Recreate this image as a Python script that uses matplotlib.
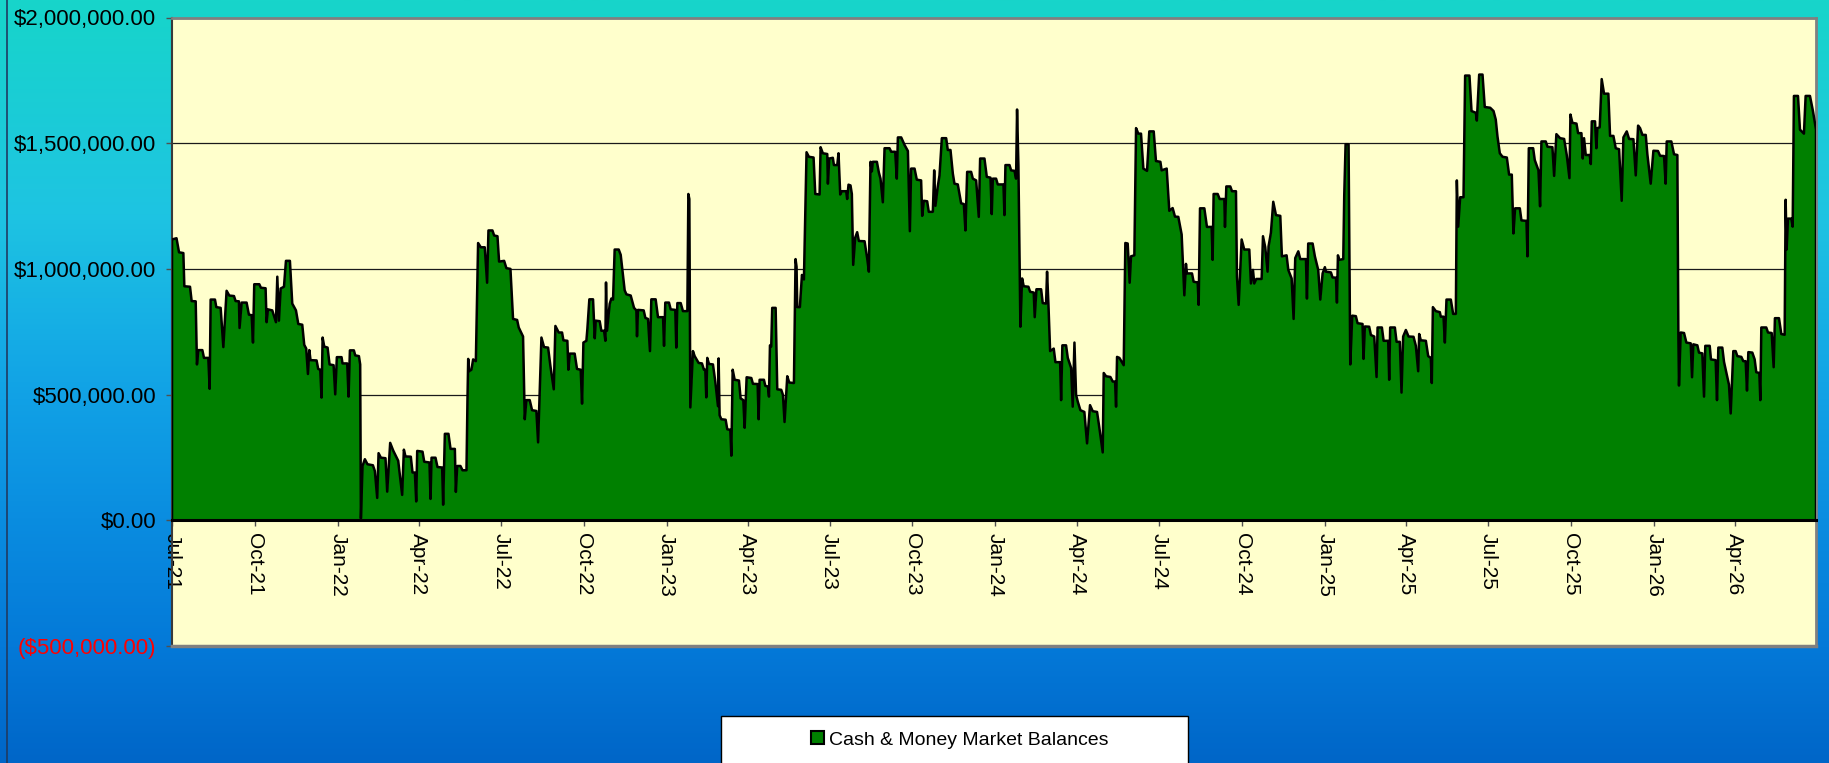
import datetime as dt
import numpy as np
import matplotlib
matplotlib.use("Agg")
import matplotlib.pyplot as plt
import matplotlib.dates as mdates
from matplotlib.colors import LinearSegmentedColormap
from matplotlib.patches import Rectangle, Patch
from matplotlib.lines import Line2D

plt.rcParams['font.family'] = ['Liberation Sans', 'DejaVu Sans']

# --- data: days since 2021-07-01 and balance in $ thousands ---
start = dt.date(2021, 7, 1)
end_day = 1825
days = [
    0, 5, 7.8, 12.6, 13.7, 20, 21.8, 26.3, 27.7, 29.2, 33.7, 35.5, 40.3, 41.8, 42.9, 47.7, 49.2, 54, 57, 60.6,
    63.6, 68.8, 70.6, 74.3, 75, 77.3, 82.8, 85.4, 88.4, 89.9, 91.3, 96.9, 98.7, 103.9, 105, 106.5, 111.3, 115.4, 116.9, 118.7,
    120.6, 124.3, 126.5, 130.9, 133.5, 137.6, 140.2, 144.6, 146.8, 149, 150.9, 152.4, 153.8, 160.5, 162.3, 164.6, 166, 167.2, 169, 172.7,
    174.9, 179.4, 181.2, 183, 188.2, 189.3, 194.5, 196, 197.5, 201.9, 203.4, 207.5, 208.9, 209.7, 211.5, 214.1, 217, 223, 225.2, 227.8,
    229.3, 231.9, 237, 238.9, 242.2, 245.6, 251.1, 255.5, 257.4, 259.2, 265.1, 267, 269.6, 271.1, 272.2, 278.1, 280, 285.8, 287, 288.1,
    292.5, 294.7, 299.9, 301, 302.9, 306.9, 309.2, 314, 315.1, 316.6, 320.2, 322.5, 326.9, 328, 328.8, 329.9, 332.4, 334.3, 337.3, 339.8,
    342.8, 347.2, 349.8, 351.3, 355.7, 357.6, 361.3, 363.1, 368.7, 371.2, 375.7, 378.6, 383.1, 384.9, 389.7, 391.6, 393.4, 397.1, 399.7, 404.5,
    406.4, 410.1, 413, 417.5, 420.1, 423.8, 425.6, 429.3, 433, 434.5, 438.9, 440, 441.5, 447, 449.6, 453.7, 455.2, 456.7, 460, 461.1,
    463.3, 467.4, 469.3, 470.4, 474.8, 476.6, 479.6, 481.1, 481.8, 482.9, 485.9, 487.7, 489.6, 491.4, 495.9, 498.1, 502.5, 504.4, 509.2, 512.9,
    515.5, 516.2, 517.3, 523.6, 525.5, 528.4, 530.6, 532.1, 536.9, 539.5, 545.1, 546.2, 547.6, 551.7, 553.6, 558.7, 559.8, 561, 564.7, 567.2,
    572.1, 573.2, 574.3, 575.4, 578.3, 580.2, 584.6, 588.3, 590.5, 592, 593.1, 594.2, 596.1, 600.5, 603.1, 606.1, 606.8, 607.9, 609.8, 614.6,
    616.4, 619.8, 620.9, 622.4, 624.6, 629.4, 631.2, 634.2, 635.7, 637.9, 643.1, 644.9, 650.1, 651.2, 652.3, 657.1, 658.6, 661.5, 662.7, 663.8,
    665.2, 666.3, 670.1, 671.9, 676.3, 678.2, 680, 683, 685.2, 690.4, 692.2, 693.3, 694.1, 697, 699.3, 701.5, 704.4, 707, 712.2, 714.1,
    718.9, 720, 722.5, 727.4, 728.1, 729.6, 733.6, 734.8, 738.5, 739.9, 741.8, 743.6, 748.4, 749.5, 751, 753.2, 754.7, 756.2, 758.4, 760.6,
    762.5, 768.8, 771.7, 773.6, 775.4, 776.9, 778, 782.5, 784.7, 786.5, 789.1, 791, 796.5, 798.4, 802.8, 804.6, 805.8, 809.5, 813.2, 816.9,
    819.1, 820.5, 824.3, 826.8, 831.6, 832.8, 834.6, 838.3, 840.1, 844.6, 846.1, 847.5, 850.1, 852, 854.6, 859.4, 861.2, 864.2, 866.8, 868.6,
    872.3, 876, 879, 880.8, 882.7, 887.1, 889, 892.7, 895.6, 897.1, 901.9, 904.5, 908.6, 910, 911.2, 914.8, 916.7, 923, 924.1, 925.2,
    929.7, 931.5, 935.2, 937, 938.1, 939.6, 941.8, 943.7, 945.5, 950.7, 952.6, 956.6, 957.7, 959.6, 964.8, 966.6, 970.3, 971.4, 972.9, 974.8,
    978.8, 980.7, 985.9, 987, 988.4, 992.5, 994.4, 998.1, 999.9, 1001.8, 1003.6, 1005.5, 1008.4, 1012.8, 1015.8, 1019.1, 1022.1, 1026.9, 1029.5, 1033.2,
    1034.3, 1036.9, 1041.7, 1044.3, 1046.9, 1048, 1049.1, 1051.7, 1056.5, 1058.3, 1060.9, 1063.1, 1064.6, 1068.3, 1070.2, 1072.7, 1075.7, 1078.3, 1082.4, 1084.9,
    1089.8, 1092.3, 1097.2, 1098.6, 1104.2, 1107.1, 1110.8, 1113.4, 1117.1, 1120.8, 1123.8, 1125.6, 1126.7, 1132.3, 1134.1, 1138.6, 1139.7, 1141.2, 1146, 1148.9,
    1154.1, 1155.2, 1156.3, 1160.8, 1163, 1168.2, 1168.9, 1170.4, 1174.8, 1176.7, 1181.1, 1182.2, 1184.1, 1187.4, 1190.3, 1195.9, 1197.7, 1200, 1201.4, 1203.7,
    1209.6, 1211.1, 1213.6, 1216.2, 1217.3, 1219.9, 1222.5, 1225.5, 1230.3, 1232.1, 1237.3, 1239.2, 1242.9, 1245.1, 1246.9, 1250.3, 1252.5, 1258.8, 1259.9, 1261.3,
    1266.2, 1268.7, 1272.4, 1274.7, 1277.3, 1279.8, 1281, 1286.5, 1288.3, 1292.1, 1293.2, 1294.3, 1295.7, 1300.2, 1301.3, 1302.8, 1306.1, 1308, 1310.2, 1314.2,
    1316.1, 1321.6, 1322.7, 1324.2, 1329, 1330.9, 1334.6, 1337.2, 1338.3, 1343.1, 1345, 1350.1, 1351.2, 1352.3, 1357.5, 1359.4, 1363, 1364.9, 1366.7, 1369.7,
    1372.7, 1378.2, 1380.8, 1383.4, 1384.5, 1386.3, 1391.9, 1394.5, 1397.4, 1398.5, 1399.7, 1403, 1407.4, 1408.5, 1411.5, 1413, 1414.8, 1419.6, 1422.2, 1425.2,
    1426.3, 1427.8, 1430, 1433.7, 1435.5, 1440.3, 1442.6, 1447.4, 1448.5, 1451.1, 1454.8, 1457.3, 1463.3, 1467, 1469.5, 1471.4, 1474, 1477, 1481.8, 1484.3,
    1487.3, 1489.1, 1491, 1496.2, 1498, 1503.6, 1504.7, 1506.2, 1511, 1512.8, 1516.9, 1518.7, 1520.2, 1525, 1526.9, 1532.4, 1534.3, 1536.8, 1540.9, 1545.4,
    1548.3, 1551.3, 1552.4, 1554.6, 1559.1, 1560.9, 1564.6, 1566.1, 1567.5, 1569.4, 1573.8, 1575, 1576.1, 1579.7, 1581.2, 1582.3, 1584.9, 1587.1, 1589.7, 1594.5,
    1596.4, 1600.1, 1602.7, 1606.4, 1609.3, 1611.2, 1614.9, 1617.5, 1622.3, 1624.9, 1627.5, 1629.7, 1632.3, 1636, 1637.8, 1641.5, 1644.5, 1649.6, 1651.9, 1656.3,
    1658.1, 1659.3, 1664.4, 1667.4, 1671.1, 1672.2, 1672.9, 1674.8, 1678.5, 1681.1, 1685.9, 1687.4, 1688.8, 1693.3, 1695.1, 1698.8, 1700.7, 1702.1, 1707, 1708.4,
    1713.6, 1715.1, 1716.6, 1721, 1722.9, 1728.4, 1730.3, 1733.2, 1735.8, 1737.7, 1742.1, 1744.3, 1746.9, 1748.4, 1749.9, 1754.3, 1756.9, 1758.7, 1762.1, 1763.2,
    1764.3, 1769.8, 1771.7, 1775.8, 1778, 1779.4, 1783.9, 1786.5, 1790.2, 1791.3, 1792.4, 1793.9, 1797.6, 1799.1, 1800.5, 1805, 1807.2, 1811.6, 1813.5, 1818.3,
    1821.6, 1825,
]
balance_k = [
    1117, 1122, 1066, 1063, 931, 929, 872, 871, 620, 677, 677, 646, 646, 523, 878, 878, 848, 845, 689, 913,
    894, 892, 872, 871, 765, 866, 866, 818, 816, 707, 939, 939, 925, 923, 788, 839, 835, 788, 969, 794,
    922, 929, 1032, 1032, 862, 835, 781, 778, 698, 683, 582, 677, 637, 636, 602, 599, 488, 727, 691, 687,
    620, 617, 501, 649, 649, 624, 624, 492, 676, 676, 656, 653, 620, 7, 216, 243, 223, 219, 196, 89,
    267, 249, 247, 114, 308, 277, 237, 101, 281, 254, 253, 190, 190, 75, 276, 273, 233, 230, 85, 249,
    249, 212, 210, 62, 344, 344, 284, 284, 113, 216, 216, 199, 199, 478, 642, 593, 599, 640, 633, 1103,
    1086, 1086, 945, 1153, 1153, 1133, 1130, 1029, 1032, 1003, 1000, 801, 797, 767, 731, 402, 478, 478, 438, 435,
    310, 727, 689, 687, 613, 521, 773, 747, 747, 716, 714, 599, 663, 663, 602, 599, 464, 707, 714, 761,
    879, 879, 724, 794, 792, 754, 754, 714, 946, 754, 861, 882, 878, 1077, 1077, 1056, 915, 899, 894, 845,
    835, 732, 837, 835, 805, 801, 673, 879, 879, 808, 808, 694, 866, 866, 839, 837, 687, 864, 864, 832,
    832, 1298, 1278, 449, 673, 653, 626, 624, 599, 599, 489, 646, 622, 620, 552, 454, 644, 418, 402, 400,
    362, 360, 257, 599, 559, 556, 485, 478, 368, 569, 566, 543, 542, 402, 559, 559, 535, 532, 492, 696,
    691, 845, 845, 521, 519, 499, 391, 573, 548, 546, 1039, 1009, 848, 848, 976, 958, 1464, 1446, 1443, 1298,
    1296, 1484, 1460, 1457, 1339, 1439, 1442, 1413, 1413, 1460, 1296, 1309, 1309, 1278, 1335, 1332, 1298, 1016, 1124, 1146,
    1111, 1110, 1043, 989, 1426, 1388, 1426, 1426, 1383, 1359, 1265, 1480, 1480, 1466, 1466, 1359, 1523, 1523, 1493, 1469,
    1150, 1399, 1399, 1355, 1352, 1211, 1271, 1269, 1227, 1227, 1392, 1251, 1328, 1372, 1520, 1520, 1473, 1473, 1379, 1339,
    1336, 1261, 1258, 1153, 1386, 1386, 1359, 1352, 1207, 1439, 1439, 1366, 1363, 1218, 1359, 1359, 1336, 1336, 1214, 1413,
    1413, 1392, 1390, 1359, 1634, 1413, 770, 962, 931, 929, 909, 906, 808, 919, 919, 864, 862, 989, 862, 673,
    683, 629, 629, 478, 696, 696, 646, 606, 452, 707, 499, 472, 438, 431, 306, 458, 434, 431, 367, 270,
    586, 573, 570, 552, 552, 452, 650, 646, 617, 1103, 1101, 945, 1050, 1054, 1560, 1538, 1538, 1399, 1390, 1547,
    1547, 1429, 1426, 1392, 1399, 1231, 1242, 1208, 1207, 1137, 895, 1020, 982, 982, 949, 946, 857, 1241, 1241, 1167,
    1167, 1036, 1298, 1298, 1278, 1278, 1167, 1328, 1328, 1309, 1309, 969, 857, 1117, 1077, 1077, 942, 996, 942, 960,
    960, 1130, 1086, 989, 1090, 1144, 1267, 1214, 1211, 1050, 1054, 996, 962, 801, 1043, 1070, 1039, 1039, 882, 1101,
    1101, 1050, 996, 878, 982, 1007, 989, 986, 966, 965, 866, 1054, 1036, 1039, 1292, 1496, 1496, 620, 814, 812,
    784, 781, 642, 771, 770, 737, 731, 570, 767, 767, 714, 714, 559, 767, 767, 710, 710, 508, 731, 757,
    731, 730, 694, 593, 741, 716, 714, 653, 646, 546, 848, 832, 828, 810, 810, 707, 878, 878, 821, 821,
    1352, 1168, 1285, 1285, 1769, 1769, 1628, 1621, 1590, 1773, 1773, 1644, 1641, 1628, 1594, 1527, 1460, 1446, 1443, 1375,
    1375, 1141, 1241, 1241, 1193, 1191, 1050, 1480, 1480, 1433, 1392, 1249, 1507, 1507, 1486, 1484, 1370, 1536, 1520, 1517,
    1453, 1361, 1614, 1581, 1578, 1540, 1540, 1439, 1520, 1453, 1453, 1417, 1587, 1587, 1480, 1560, 1563, 1755, 1697, 1697,
    1529, 1529, 1480, 1476, 1271, 1523, 1547, 1517, 1516, 1372, 1570, 1560, 1533, 1533, 1456, 1339, 1470, 1469, 1450, 1449,
    1339, 1507, 1507, 1456, 1453, 747, 536, 747, 745, 707, 704, 569, 700, 696, 667, 664, 492, 694, 694, 640,
    637, 478, 687, 687, 630, 539, 425, 673, 673, 653, 650, 633, 633, 516, 669, 667, 640, 589, 586, 478,
    767, 767, 747, 745, 609, 804, 804, 741, 738, 1275, 1077, 1200, 1200, 1168, 1688, 1688, 1554, 1538, 1688, 1688,
    1628, 1554,
]
y_ticks = [-500000, 0, 500000, 1000000, 1500000, 2000000]
series_label = "Cash & Money Market Balances"

W, H = 1829, 763
fig = plt.figure(figsize=(W / 100, H / 100), dpi=100)

# gradient background of the chart area
bg = fig.add_axes([0, 0, 1, 1], zorder=-10)
cmap = LinearSegmentedColormap.from_list("bg", [
    (0.0, "#17D5CA"), (0.28, "#1EC4E2"), (0.5, "#12A4E6"),
    (0.68, "#0A8DE0"), (0.85, "#0479D8"), (1.0, "#0066C8")])
bg.imshow(np.linspace(0, 1, 256).reshape(-1, 1), aspect="auto", cmap=cmap)
bg.axis("off")
fig.add_artist(Line2D([7 / W, 7 / W], [0, 1], color="#1F3B63", lw=1.2))

# plot area
ax = fig.add_axes([172 / W, 1 - 646 / H, (1816 - 172) / W, (646 - 17.5) / H])
ax.set_facecolor("#FFFFCC")

x0 = mdates.date2num(start)
x = x0 + np.array(days)
y = np.array(balance_k) * 1000.0

ax.fill_between(x, 0, y, color="#008000", lw=0, zorder=2)
ax.plot(np.r_[x[0], x, x[-1]], np.r_[0, y, 0], color="black", lw=1.8, zorder=3)

ax.set_xlim(x0, x0 + end_day)
ax.set_ylim(-500000, 2000000)
ax.set_axisbelow(True)
ax.grid(axis="y", color="#1A1A1A", lw=0.9)

# x axis crosses at zero
ax.spines["bottom"].set_position(("data", 0))
ax.spines["bottom"].set_color("black")
ax.spines["bottom"].set_linewidth(2.2)
ax.spines["bottom"].set_zorder(4)
for s in ("top", "right"):
    ax.spines[s].set_color("#808080")
    ax.spines[s].set_linewidth(2)
ax.spines["left"].set_color("#3A3A3A")
ax.spines["left"].set_linewidth(1.5)
ax.plot([0, 1], [0, 0], transform=ax.transAxes, color="#808080", lw=2.5, clip_on=False, zorder=5)

ax.xaxis.set_major_locator(mdates.MonthLocator(bymonth=[1, 4, 7, 10]))
ax.xaxis.set_major_formatter(mdates.DateFormatter("%b-%y"))
ax.tick_params(axis="x", direction="out", length=4, width=1, color="#505050",
               pad=5, labelsize=15, labelrotation=-90)

ylabels = [f"(${-v:,.2f})" if v < 0 else f"${v:,.2f}" for v in y_ticks]
ax.set_yticks(y_ticks, labels=ylabels)
ax.tick_params(axis="y", direction="out", length=4, width=1, color="#505050",
               pad=7.5, labelsize=16)
for lbl, v in zip(ax.get_yticklabels(), y_ticks):
    if v < 0:
        lbl.set_color("#FF0000")

# legend box at the bottom
fig.add_artist(Rectangle((721 / W, -0.02), (1188 - 721) / W, (763 - 716) / H + 0.02,
                         transform=fig.transFigure, facecolor="white", edgecolor="black", lw=1))
fig.legend(handles=[Patch(facecolor="#008000", edgecolor="black", lw=1.5)], labels=[series_label],
           loc="center", bbox_to_anchor=(960 / W, 1 - 740 / H), frameon=False, fontsize=14,
           handlelength=0.65, handleheight=0.65, handletextpad=0.3)

fig.savefig("out.png", dpi=100)
